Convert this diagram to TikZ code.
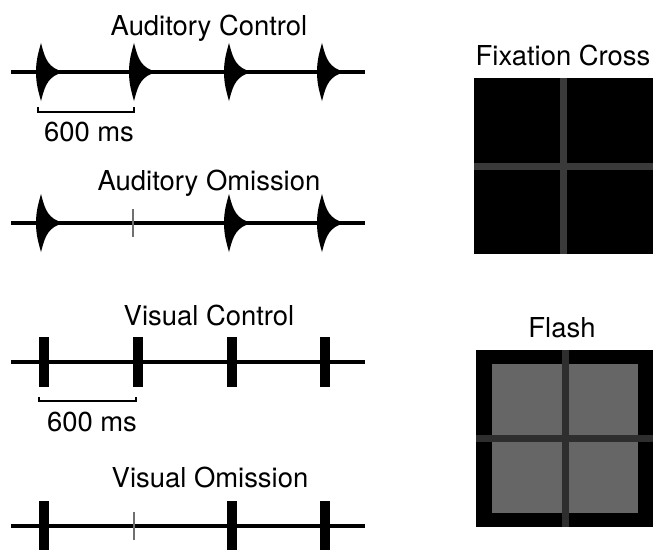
\documentclass[tikz,border=0pt]{standalone}
\usepackage{fontspec}
\setmainfont{TeX Gyre Heros}
\definecolor{crossgray}{HTML}{3A3A3A}
\definecolor{flashcross}{HTML}{2E2E2E}
\definecolor{flashgray}{HTML}{666666}
\definecolor{omitgray}{HTML}{707070}

\begin{document}
\begin{tikzpicture}[
  x=0.025cm, y=-0.025cm,
  caption/.style={font=\fontsize{19.5}{23}\selectfont, inner sep=0pt, anchor=base},
  track/.style={line width=2.6pt},
  gap/.style={draw=omitgray, line width=1.5pt},
  bracket/.style={line width=1.8pt},
  pulse/.pic={
    \fill[black] (0,-29) .. controls (-2.5,-20) and (-5,-12) .. (-5,0)
      .. controls (-5,12) and (-2.5,20) .. (0,29)
      .. controls (3,18) and (5,7) .. (17,2) -- (17,-2)
      .. controls (5,-7) and (3,-18) .. cycle;
  },
  flash/.pic={\fill[black] (-5,-25) rectangle (5,25);},
]
\useasboundingbox (0,0) rectangle (653,549);

% auditory control
\node[caption] (ac) at (209,35) {Auditory Control};
\draw[track] (11,72) -- (365,72);
\foreach \x in {41,134,229,322}
  \pic at (\x,72) {pulse};
\draw[bracket] (38,107) |- (134,112) -- (134,107);
\node[caption] (acms) at (89,141) {600 ms};

% auditory omission
\node[caption] (ao) at (209,190) {Auditory Omission};
\draw[track] (11,223) -- (365,223);
\foreach \x in {41,229,322}
  \pic at (\x,223) {pulse};
\draw[gap] (133,209) -- (133,237);

% visual control
\node[caption] (vc) at (209,325) {Visual Control};
\draw[track] (11,362) -- (365,362);
\foreach \x in {44,138,232,325}
  \pic at (\x,362) {flash};
\draw[bracket] (39,397) |- (136,401) -- (136,397);
\node[caption] (vcms) at (92,431) {600 ms};

% visual omission
\node[caption] (vo) at (210,487) {Visual Omission};
\draw[track] (11,526) -- (365,526);
\foreach \x in {44,232,325}
  \pic at (\x,526) {flash};
\draw[gap] (134,512) -- (134,540);

% fixation cross screen
\node[caption] (fix) at (563,65) {Fixation Cross};
\fill[black] (474,78) rectangle (653,254);
\fill[crossgray] (560,78) rectangle (567,254);
\fill[crossgray] (474,162.5) rectangle (653,169.5);

% flash screen
\node[caption] (fl) at (562,337) {Flash};
\fill[black] (476,350) rectangle (653,527);
\fill[flashgray] (492,364) rectangle (638,513);
\fill[flashcross] (561.5,350) rectangle (568.5,527);
\fill[flashcross] (476,434.5) rectangle (653,441.5);
\end{tikzpicture}
\end{document}
